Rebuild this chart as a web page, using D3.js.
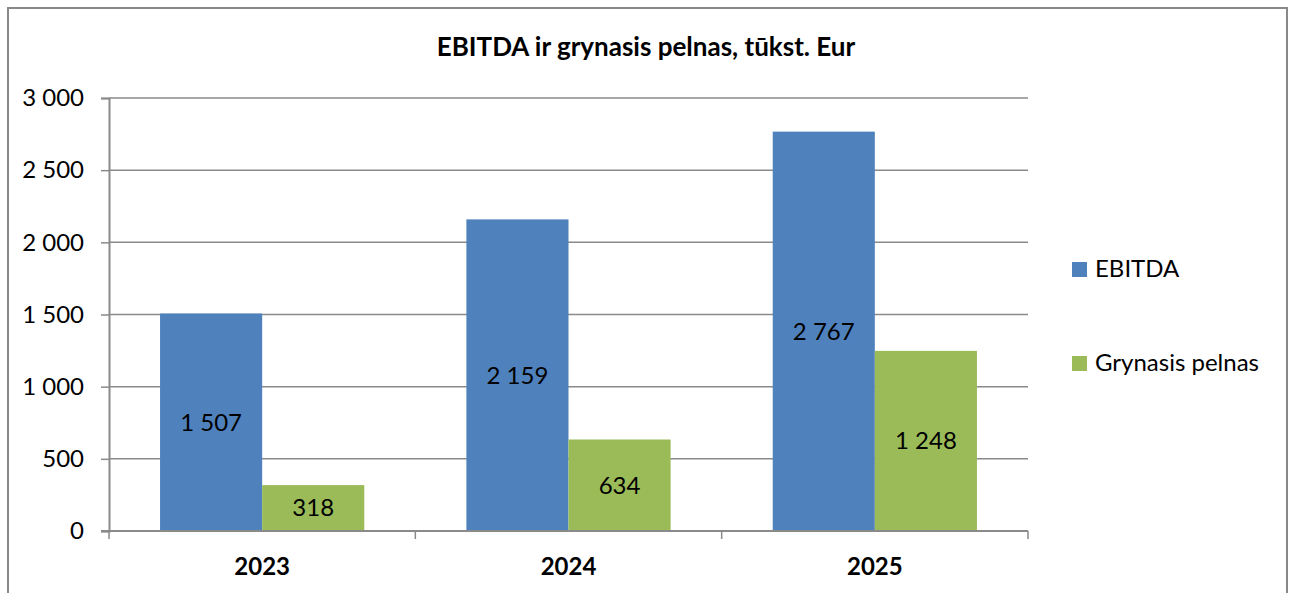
<!DOCTYPE html>
<html>
<head>
<meta charset="utf-8">
<script src="https://cdn.jsdelivr.net/npm/d3@7"></script>
<style>
  body { margin: 0; background: #fff; }
  svg text { font-family: Lato, "Open Sans", sans-serif; fill: #000; }
</style>
</head>
<body>
<svg id="chart"></svg>
<script>
// chart data
var categories = ["2023", "2024", "2025"];
var seriesNames = ["EBITDA", "Grynasis pelnas"];
var ebitda = [1507, 2159, 2767];
var grynasisPelnas = [318, 634, 1248];
var yTicks = [0, 500, 1000, 1500, 2000, 2500, 3000];
var colors = ["#4F81BD", "#9BBB59"];

var width = 1293, height = 593;
var plot = {left: 109, right: 1028, top: 98, bottom: 531};

var svg = d3.select("#chart")
    .attr("width", width)
    .attr("height", height);

// outer frame
svg.append("rect")
    .attr("x", 8).attr("y", 8)
    .attr("width", 1279).attr("height", 600)
    .attr("fill", "#fff")
    .attr("stroke", "#898989")
    .attr("stroke-width", 2);

var locale = d3.formatLocale({decimal: ",", thousands: "\u00a0", grouping: [3], currency: ["", ""]});
var fmt = locale.format(",d");

var y = d3.scaleLinear().domain([0, 3000]).range([plot.bottom, plot.top]);
var x = d3.scaleBand().domain(categories)
    .range([plot.left, plot.right])
    .paddingInner(1 / 3).paddingOuter(1 / 6);
var xs = d3.scaleBand().domain(seriesNames).range([0, x.bandwidth()]);

// gridlines
svg.append("g").selectAll("line")
    .data(yTicks.filter(function(d) { return d > 0; }))
    .enter().append("line")
    .attr("x1", plot.left).attr("x2", plot.right)
    .attr("y1", function(d) { return y(d); })
    .attr("y2", function(d) { return y(d); })
    .attr("stroke", "#8a8a8a")
    .attr("stroke-width", 1.5);

// bars
var rows = categories.map(function(c, i) {
    return {cat: c, values: [ebitda[i], grynasisPelnas[i]]};
});

var groups = svg.append("g").selectAll("g")
    .data(rows)
    .enter().append("g")
    .attr("transform", function(d) { return "translate(" + x(d.cat) + ",0)"; });

var bars = groups.selectAll("g")
    .data(function(d) {
        return d.values.map(function(v, j) { return {name: seriesNames[j], value: v, idx: j}; });
    })
    .enter().append("g");

bars.append("rect")
    .attr("x", function(d) { return xs(d.name); })
    .attr("y", function(d) { return y(d.value); })
    .attr("width", xs.bandwidth())
    .attr("height", function(d) { return y(0) - y(d.value); })
    .attr("fill", function(d) { return colors[d.idx]; });

bars.append("text")
    .attr("x", function(d) { return xs(d.name) + xs.bandwidth() / 2; })
    .attr("y", function(d) { return (y(d.value) + y(0)) / 2; })
    .attr("dy", "0.35em")
    .attr("text-anchor", "middle")
    .style("font-size", "24px")
    .text(function(d) { return fmt(d.value); });

// y axis
var yAxis = svg.append("g")
    .attr("transform", "translate(" + plot.left + ",0)")
    .call(d3.axisLeft(y).tickValues(yTicks).tickFormat(fmt).tickSize(8).tickPadding(17));
yAxis.select(".domain").attr("stroke", "#8a8a8a").attr("stroke-width", 2);
yAxis.selectAll(".tick line").attr("stroke", "#8a8a8a").attr("stroke-width", 1.5);
yAxis.selectAll(".tick text")
    .style("font-size", "24px")
    .style("font-family", "Lato, sans-serif")
    .attr("fill", "#000");

// x axis baseline and category ticks
svg.append("line")
    .attr("x1", plot.left - 8).attr("x2", plot.right)
    .attr("y1", y(0)).attr("y2", y(0))
    .attr("stroke", "#8a8a8a").attr("stroke-width", 2);

var bounds = d3.range(categories.length + 1).map(function(i) { return plot.left + i * x.step(); });
svg.append("g").selectAll("line")
    .data(bounds)
    .enter().append("line")
    .attr("x1", function(d) { return d; }).attr("x2", function(d) { return d; })
    .attr("y1", y(0)).attr("y2", y(0) + 8)
    .attr("stroke", "#8a8a8a").attr("stroke-width", 1.5);

svg.append("g").selectAll("text")
    .data(categories)
    .enter().append("text")
    .attr("x", function(d) { return x(d) + x.bandwidth() / 2; })
    .attr("y", 575)
    .attr("text-anchor", "middle")
    .style("font-size", "24px")
    .style("font-weight", "bold")
    .text(function(d) { return d; });

// title
svg.append("text")
    .attr("x", 646).attr("y", 56)
    .attr("text-anchor", "middle")
    .style("font-size", "26px")
    .style("font-weight", "bold")
    .text("EBITDA ir grynasis pelnas, tūkst. Eur");

// legend
var legend = svg.append("g").selectAll("g")
    .data(seriesNames)
    .enter().append("g")
    .attr("transform", function(d, i) { return "translate(1072," + (269 + i * 94) + ")"; });

legend.append("rect")
    .attr("x", 0).attr("y", -7)
    .attr("width", 15).attr("height", 15)
    .attr("fill", function(d, i) { return colors[i]; });

legend.append("text")
    .attr("x", 23).attr("y", 0)
    .attr("dy", "0.35em")
    .style("font-size", "24px")
    .text(function(d) { return d; });
</script>
</body>
</html>
